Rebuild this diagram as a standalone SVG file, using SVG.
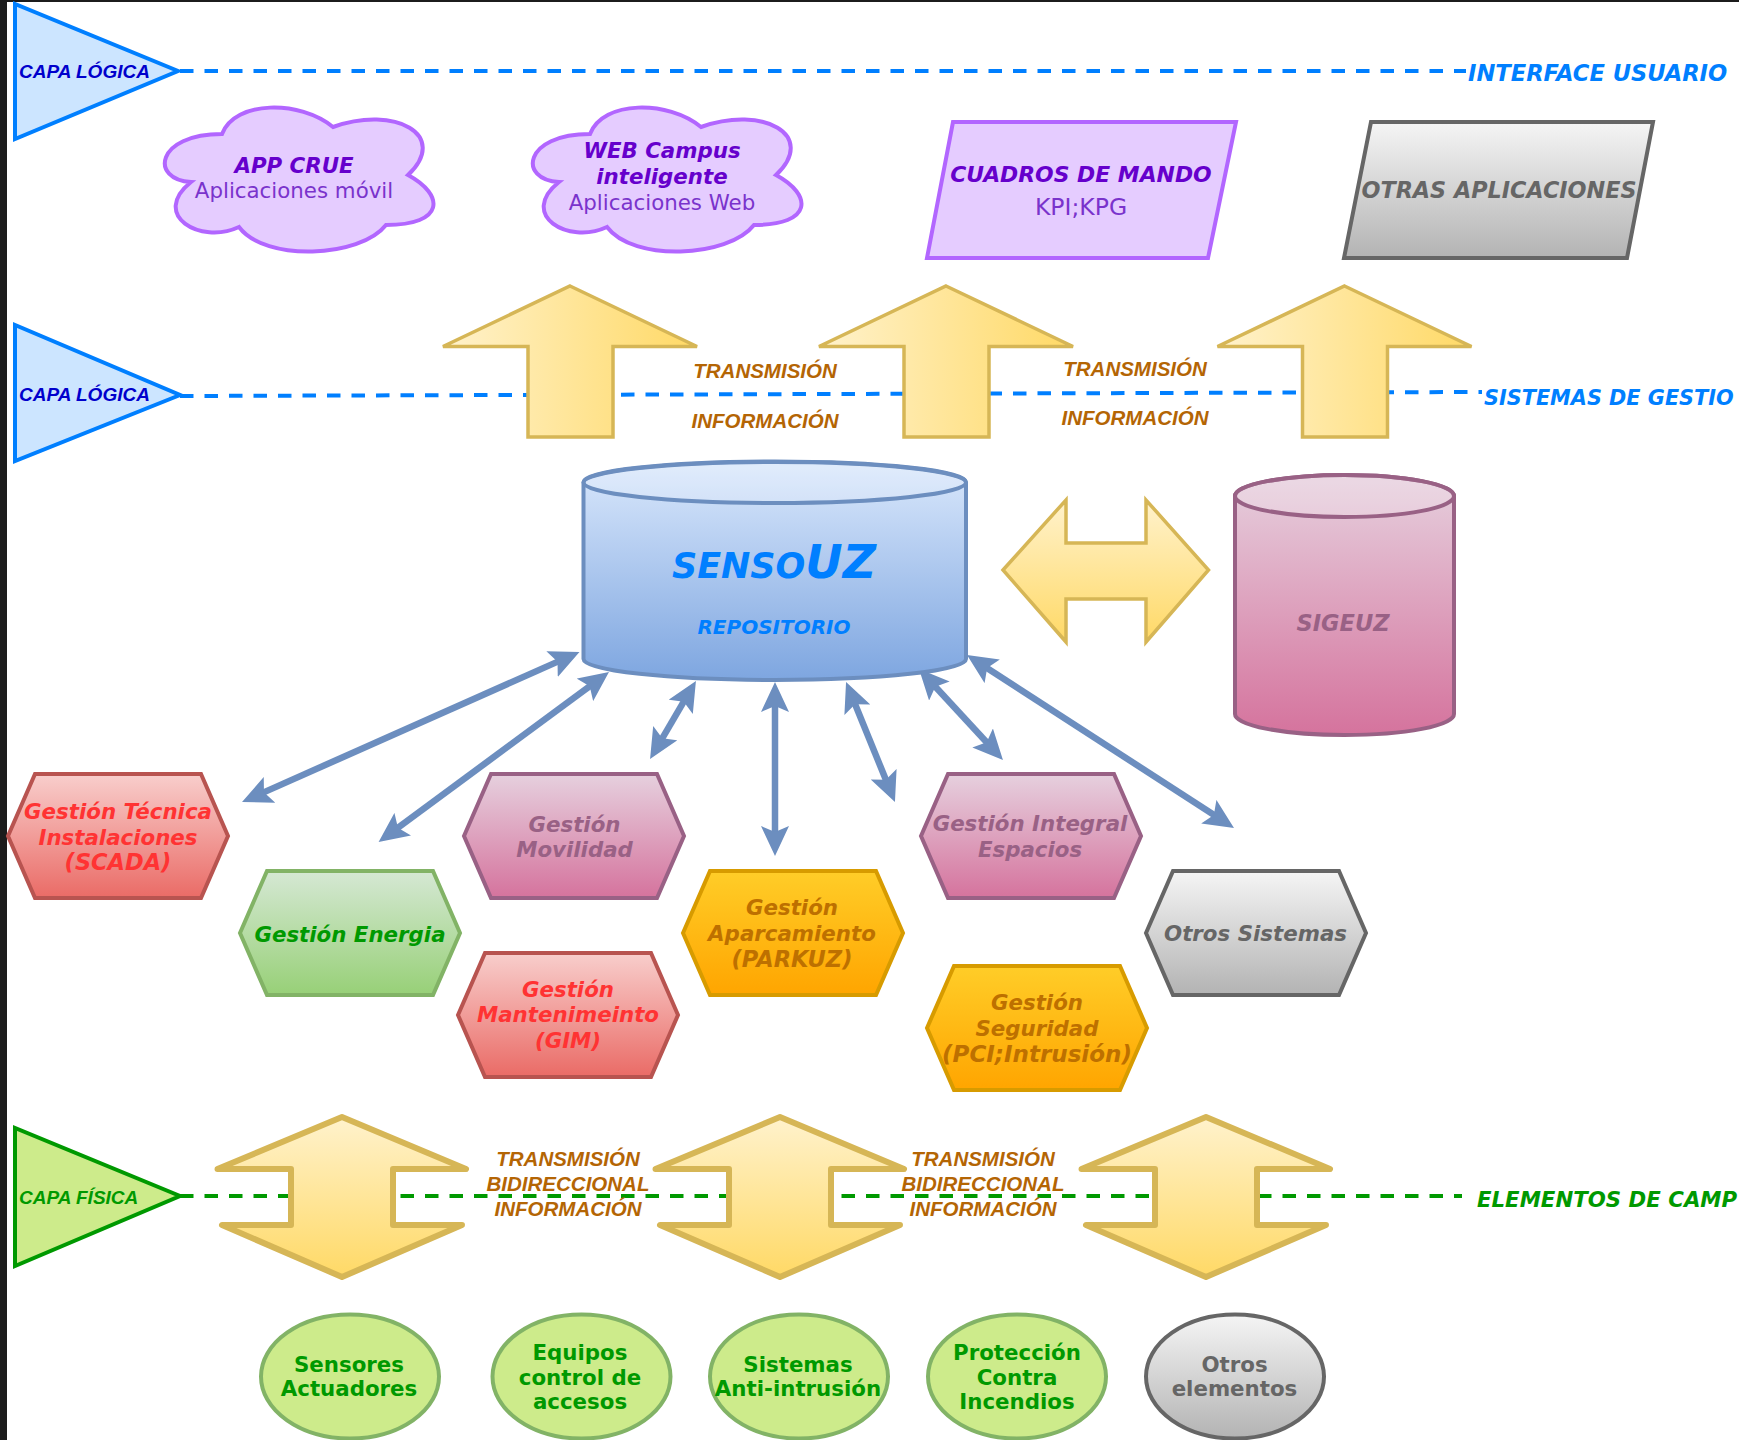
<svg xmlns="http://www.w3.org/2000/svg" width="1739" height="1440" viewBox="0 0 1739 1440">
<style>
text{font-family:"DejaVu Sans","Liberation Sans",sans-serif;text-anchor:middle;font-size:21.33px}
.bi{font-weight:bold;font-style:italic}
.b{font-weight:bold}
.ar{font-family:"Liberation Sans",Arial,sans-serif;font-weight:bold;font-style:italic;font-size:20.5px;fill:#b46504}
.capa{font-family:"Liberation Sans",Arial,sans-serif;font-weight:bold;font-style:italic;font-size:19px;text-anchor:start}
.side{font-weight:bold;font-style:italic;text-anchor:start}
.dash{fill:none;stroke-width:4;stroke-dasharray:13.5 11}
.link{fill:none;stroke:#6c8ebf;stroke-width:6.5;marker-start:url(#head);marker-end:url(#head)}
.cloud{fill:#e5ccff;stroke:#b266ff;stroke-width:4}
.tri-b{fill:#cce5ff;stroke:#007fff;stroke-width:4}
.hex{stroke-width:4;stroke-linejoin:miter}
.up{fill:url(#gH);stroke:#d6b656;stroke-width:3.5}
.dbl{fill:url(#gV);stroke:#d6b656;stroke-width:6;stroke-linejoin:round}
.red{fill:url(#gRed);stroke:#b85450}.tred{fill:#ff3333}
.grn{fill:url(#gGrn);stroke:#82b366}.tgrn{fill:#009900}
.mau{fill:url(#gMau);stroke:#996185}.tmau{fill:#996185}
.org{fill:url(#gOrg);stroke:#d79b00}.torg{fill:#bd7000}
.gry{fill:url(#gGry);stroke:#666}.tgry{fill:#666}
.tpur{fill:#6600cc}.tlil{fill:#7a33cc}.tblu{fill:#007fff}
.lime{fill:#cdeb8b;stroke:#82b366;stroke-width:4}
</style>
<defs>
<linearGradient id="gH"><stop offset="0" stop-color="#fff2cc"/><stop offset="1" stop-color="#ffd966"/></linearGradient>
<linearGradient id="gV" x2="0" y2="1"><stop offset="0" stop-color="#fff2cc"/><stop offset="1" stop-color="#ffd966"/></linearGradient>
<linearGradient id="gRed" x2="0" y2="1"><stop offset="0" stop-color="#f8cecc"/><stop offset="1" stop-color="#ea6b66"/></linearGradient>
<linearGradient id="gGrn" x2="0" y2="1"><stop offset="0" stop-color="#d5e8d4"/><stop offset="1" stop-color="#97d077"/></linearGradient>
<linearGradient id="gMau" x2="0" y2="1"><stop offset="0" stop-color="#e6d0de"/><stop offset="1" stop-color="#d5739d"/></linearGradient>
<linearGradient id="gOrg" x2="0" y2="1"><stop offset="0" stop-color="#ffcd28"/><stop offset="1" stop-color="#ffa500"/></linearGradient>
<linearGradient id="gGry" x2="0" y2="1"><stop offset="0" stop-color="#f5f5f5"/><stop offset="1" stop-color="#b3b3b3"/></linearGradient>
<linearGradient id="gBlu" x2="0" y2="1"><stop offset="0" stop-color="#dae8fc"/><stop offset="1" stop-color="#7ea6e0"/></linearGradient>
<marker id="head" markerUnits="userSpaceOnUse" markerWidth="32" markerHeight="28" viewBox="0 0 32 28" refX="10" refY="14" orient="auto-start-reverse"><path d="M0,0 L30,14 L0,28 L6,14 Z" fill="#6c8ebf"/></marker>
<path id="cloudShape" d="M222,134 C235,100 300,100 333,127 C395,105 450,135 408,175 C445,195 445,225 386,225 C360,258 265,262 239,227 C200,245 150,215 191,182 C150,180 155,134 222,134 Z"/>
<polygon id="hexShape" points="0,62 27,0 193,0 220,62 193,124 27,124"/>
<polygon id="upShape" points="570,286 697,346.5 613,346.5 613,437 528,437 528,346.5 443,346.5"/>
<polygon id="dblShape" points="342,1117 466,1169 393,1169 393,1225 462,1225 342,1277 222,1225 291,1225 291,1169 217.5,1169"/>
</defs>
<rect width="1739" height="1440" fill="#fff"/>
<rect id="edge-left" width="7" height="1440" fill="#1c1c1c"/>
<rect id="edge-top" width="1739" height="2" fill="#1c1c1c"/>

<g id="connectors">
<path class="dash" stroke="#007fff" d="M180,71 H1466"/>
<path class="dash" stroke="#007fff" d="M180,396 L1482,392"/>
<path class="dash" stroke="#009900" d="M180,1196 H1462"/>
<path class="link" d="M260.3,793.9 L561.2,660.1"/>
<path class="link" d="M394.7,830.1 L592.9,683.9"/>
<path class="link" d="M660.2,741.8 L685.8,698.2"/>
<path class="link" d="M775,836 L775,702"/>
<path class="link" d="M887.4,783.5 L853.6,700.5"/>
<path class="link" d="M989.4,745.3 L932.6,683.7"/>
<path class="link" d="M1217.2,817.1 L983.8,665.9"/>
</g>

<g id="capa-logica-1"><polygon class="tri-b" points="15,4 15,139 178,71"/><text class="capa" x="19" y="78" fill="#0000cc">CAPA LÓGICA</text></g>
<g id="capa-logica-2"><polygon class="tri-b" points="15,325 15,461 180,395"/><text class="capa" x="19" y="401" fill="#0000cc">CAPA LÓGICA</text></g>
<g id="capa-fisica"><polygon points="15,1128 15,1266 180,1196" fill="#cdeb8b" stroke="#009900" stroke-width="4"/><text class="capa tgrn" x="19" y="1204">CAPA FÍSICA</text></g>

<g id="label-interface"><text class="side tblu" x="1468" y="81" style="font-size:22.6px">INTERFACE USUARIO</text></g>
<g id="label-sistemas"><text class="side tblu" x="1484" y="405" style="font-size:20.8px">SISTEMAS DE GESTIO</text></g>
<g id="label-elementos"><text class="side tgrn" x="1477" y="1207" style="font-size:21.3px">ELEMENTOS DE CAMP</text></g>

<g id="app-crue"><use href="#cloudShape" class="cloud"/><text class="bi tpur" x="294" y="173">APP CRUE</text><text class="tlil" x="294" y="198">Aplicaciones móvil</text></g>
<g id="web-campus"><use href="#cloudShape" x="368" class="cloud"/><text class="bi tpur" x="662" y="158">WEB Campus</text><text class="bi tpur" x="662" y="184">inteligente</text><text class="tlil" x="662" y="210">Aplicaciones Web</text></g>
<g id="cuadros"><polygon points="953,122 1236,122 1208,258 927,258" fill="#e5ccff" stroke="#b266ff" stroke-width="4"/><text class="bi tpur" x="1081" y="182" style="font-size:21.9px">CUADROS DE MANDO</text><text class="tlil" x="1081" y="215" style="font-size:23.5px">KPI;KPG</text></g>
<g id="otras"><polygon class="gry" points="1371,122 1653,122 1627,258 1344,258" stroke-width="4"/><text class="bi tgry" x="1499" y="198" style="font-size:22.3px">OTRAS APLICACIONES</text></g>

<g id="flecha-1"><use href="#upShape" class="up"/></g>
<g id="flecha-2"><use href="#upShape" x="376" class="up"/></g>
<g id="flecha-3"><use href="#upShape" x="774.5" class="up"/></g>
<g id="transmision-1"><text class="ar" x="765" y="378">TRANSMISIÓN</text><text class="ar" x="765" y="428">INFORMACIÓN</text></g>
<g id="transmision-2"><text class="ar" x="1135" y="376">TRANSMISIÓN</text><text class="ar" x="1135" y="425">INFORMACIÓN</text></g>

<g id="sensouz">
<path d="M583.5,482 A191.25,20.5 0 0 1 966,482 V659 A191.25,21 0 0 1 583.5,659 Z" fill="url(#gBlu)" stroke="#6c8ebf" stroke-width="4"/>
<ellipse cx="774.75" cy="482.5" rx="191.25" ry="20.5" fill="#fff" fill-opacity=".2" stroke="#6c8ebf" stroke-width="4"/>
<text class="bi tblu" x="774" y="578" style="font-size:35px">SENSO<tspan style="font-size:46px">UZ</tspan></text>
<text class="bi tblu" x="774" y="634" style="font-size:20px">REPOSITORIO</text>
</g>
<g id="sigeuz">
<path d="M1235,496 A109.5,21 0 0 1 1454,496 V714 A109.5,21 0 0 1 1235,714 Z" fill="url(#gMau)" stroke="#996185" stroke-width="4"/>
<ellipse cx="1344.5" cy="496" rx="109.5" ry="21" fill="#fff" fill-opacity=".2" stroke="#996185" stroke-width="4"/>
<text class="bi tmau" x="1343" y="631" style="font-size:22.5px">SIGEUZ</text>
</g>
<g id="flecha-doble"><polygon points="1003,570 1066,500 1066,543 1146,543 1146,500 1208.5,570 1146,642 1146,599 1066,599 1066,642" fill="url(#gV)" stroke="#d6b656" stroke-width="3.5"/></g>

<g id="gestion-tecnica"><use href="#hexShape" x="8" y="774" class="hex red"/><text class="bi tred" x="118" y="819">Gestión Técnica</text><text class="bi tred" x="118" y="845">Instalaciones</text><text class="bi tred" x="118" y="870" style="font-size:22.5px">(SCADA)</text></g>
<g id="gestion-energia"><use href="#hexShape" x="240" y="871" class="hex grn"/><text class="bi tgrn" x="350" y="942">Gestión Energia</text></g>
<g id="gestion-movilidad"><use href="#hexShape" x="464" y="774" class="hex mau"/><text class="bi tmau" x="574.5" y="832">Gestión</text><text class="bi tmau" x="574.5" y="857">Movilidad</text></g>
<g id="gestion-mantenimiento"><use href="#hexShape" x="458" y="953" class="hex red"/><text class="bi tred" x="568" y="997">Gestión</text><text class="bi tred" x="568" y="1022">Mantenimeinto</text><text class="bi tred" x="568" y="1048">(GIM)</text></g>
<g id="gestion-aparcamiento"><use href="#hexShape" x="683" y="871" class="hex org"/><text class="bi torg" x="792" y="915">Gestión</text><text class="bi torg" x="792" y="941">Aparcamiento</text><text class="bi torg" x="792" y="967" style="font-size:22.5px">(PARKUZ)</text></g>
<g id="gestion-integral"><use href="#hexShape" x="921" y="774" class="hex mau"/><text class="bi tmau" x="1030" y="831">Gestión Integral</text><text class="bi tmau" x="1030" y="857">Espacios</text></g>
<g id="otros-sistemas"><use href="#hexShape" x="1146" y="871" class="hex gry"/><text class="bi tgry" x="1255.5" y="941">Otros Sistemas</text></g>
<g id="gestion-seguridad"><use href="#hexShape" x="927" y="966" class="hex org"/><text class="bi torg" x="1037" y="1010">Gestión</text><text class="bi torg" x="1037" y="1036">Seguridad</text><text class="bi torg" x="1037" y="1062" style="font-size:23px">(PCI;Intrusión)</text></g>

<g id="doble-1"><use href="#dblShape" class="dbl"/></g>
<g id="doble-2"><use href="#dblShape" x="438" class="dbl"/></g>
<g id="doble-3"><use href="#dblShape" x="864" class="dbl"/></g>
<g id="bidir-1"><text class="ar" x="568" y="1166">TRANSMISIÓN</text><text class="ar" x="568" y="1191">BIDIRECCIONAL</text><text class="ar" x="568" y="1216">INFORMACIÓN</text></g>
<g id="bidir-2"><text class="ar" x="983" y="1166">TRANSMISIÓN</text><text class="ar" x="983" y="1191">BIDIRECCIONAL</text><text class="ar" x="983" y="1216">INFORMACIÓN</text></g>

<g id="sensores"><ellipse class="lime" cx="350" cy="1376.5" rx="89" ry="62"/><text class="b tgrn" x="349" y="1372">Sensores</text><text class="b tgrn" x="349" y="1396">Actuadores</text></g>
<g id="equipos"><ellipse class="lime" cx="581.5" cy="1376.5" rx="89" ry="62"/><text class="b tgrn" x="580" y="1360">Equipos</text><text class="b tgrn" x="580" y="1385">control de</text><text class="b tgrn" x="580" y="1409">accesos</text></g>
<g id="sistemas"><ellipse class="lime" cx="799" cy="1376.5" rx="89" ry="62"/><text class="b tgrn" x="798" y="1372">Sistemas</text><text class="b tgrn" x="798" y="1396">Anti-intrusión</text></g>
<g id="proteccion"><ellipse class="lime" cx="1017" cy="1376.5" rx="89" ry="62"/><text class="b tgrn" x="1017" y="1360">Protección</text><text class="b tgrn" x="1017" y="1385">Contra</text><text class="b tgrn" x="1017" y="1409">Incendios</text></g>
<g id="otros-elementos"><ellipse class="gry" stroke-width="4" cx="1235" cy="1376.5" rx="89" ry="62"/><text class="b tgry" x="1234.5" y="1372">Otros</text><text class="b tgry" x="1234.5" y="1396">elementos</text></g>
</svg>
